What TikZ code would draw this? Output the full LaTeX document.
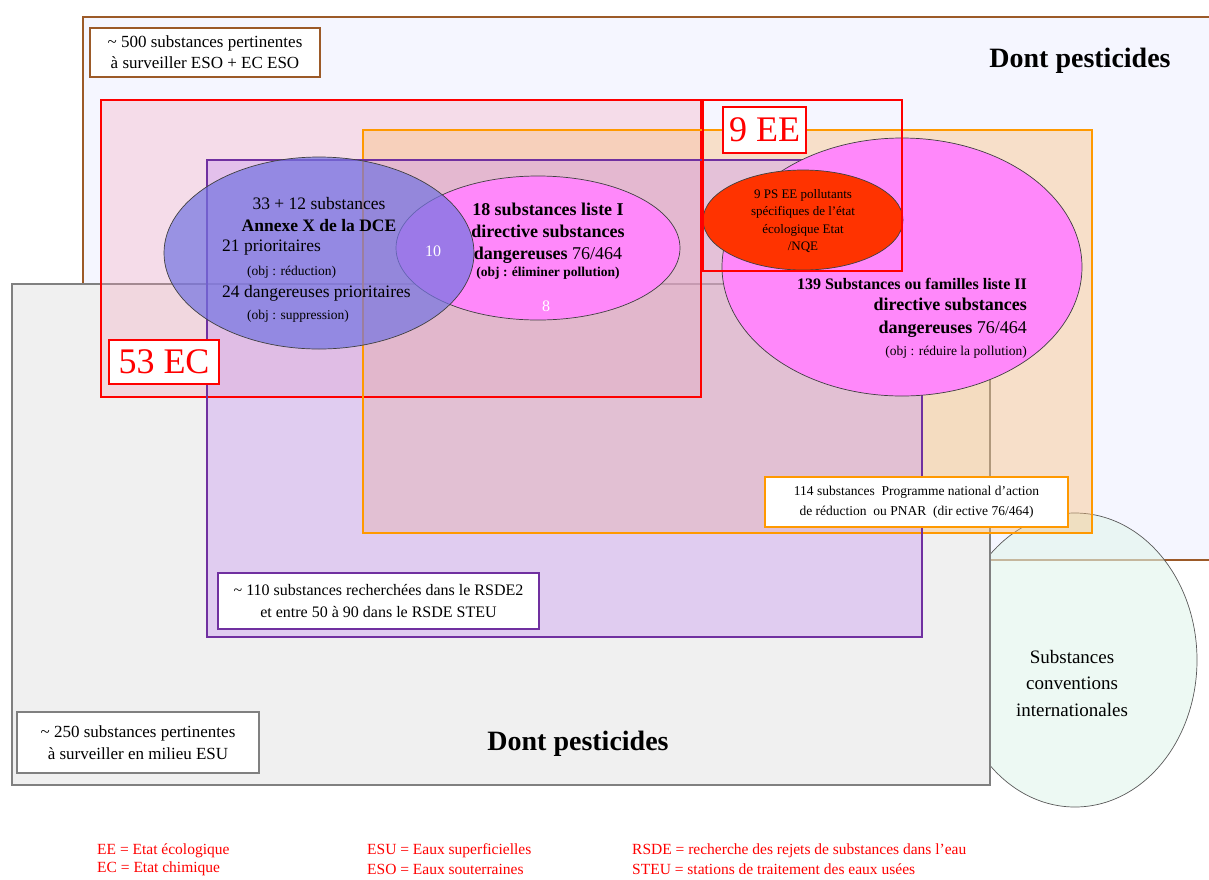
\documentclass[tikz,border=0pt]{standalone}
\usepackage{fontspec}
\setmainfont{Liberation Serif}
\usepackage{xcolor}
\usepackage{tikz}
\usetikzlibrary{shapes,positioning}

\definecolor{esobrown}{RGB}{156,90,40}
\definecolor{esofill}{RGB}{245,246,255}
\definecolor{esugray}{RGB}{128,128,128}
\definecolor{esufill}{RGB}{240,240,240}
\definecolor{ecred}{RGB}{255,0,0}
\definecolor{ecfill}{RGB}{245,160,185}
\definecolor{pnarorange}{RGB}{255,153,0}
\definecolor{pnarfill}{RGB}{250,190,120}
\definecolor{rsdepurple}{RGB}{112,48,160}
\definecolor{rsdefill}{RGB}{200,150,240}
\definecolor{annexeblue}{RGB}{115,115,225}
\definecolor{listpink}{RGB}{255,136,250}
\definecolor{psorange}{RGB}{255,51,0}
\definecolor{convfill}{RGB}{225,245,235}

\newcommand{\fsz}[2]{\fontsize{#1}{#2}\selectfont}

\begin{document}
\begin{tikzpicture}[x=1pt, y=-1pt]
                    % Define styles
                    \tikzstyle{zone} = [line width=2.5pt]
                    \tikzstyle{tag} = [rectangle, draw, line width=2.5pt, fill=white, align=center, inner sep=0pt]
                    \tikzstyle{blob} = [ellipse, draw=black!75, line width=0.7pt, inner sep=0pt]
                    \tikzstyle{txt} = [align=center, inner sep=0pt]
                    \tikzstyle{note} = [anchor=west, inner sep=0pt, text=red, font=\fsz{15.5}{18}]

                    \useasboundingbox (0,0) rectangle (1209,879);

                    % ESO zone, conventions, ESU zone
                    \draw [zone, draw=esobrown, fill=esofill] (83,17) rectangle (1220,560);
                    \node [blob, draw=black!65, fill=convfill, fill opacity=0.6, minimum width=244pt, minimum height=294pt] (conv) at (1075,660) {};
                    \draw [zone, draw=esugray, fill=esufill] (12,284) rectangle (990,785);

                    % EC, PNAR and RSDE zones: fills first, then borders
                    \fill [ecfill, fill opacity=0.3] (101,100) rectangle (701,397);
                    \fill [pnarfill, fill opacity=0.4] (363,130) rectangle (1092,533);
                    \fill [rsdefill, fill opacity=0.4] (207,160) rectangle (922,637);
                    \draw [zone, ecred] (101,100) rectangle (701,397);
                    \draw [zone, pnarorange] (363,130) rectangle (1092,533);
                    \draw [zone, rsdepurple] (207,160) rectangle (922,637);

                    % Substance lists
                    \node [blob, fill=listpink, minimum width=284pt, minimum height=144pt] (liste1) at (538,248) {};
                    \node [blob, fill=annexeblue, fill opacity=0.7, minimum width=310pt, minimum height=192pt] (annexe) at (319,253) {};
                    \node [blob, fill=listpink, minimum width=360pt, minimum height=258pt] (liste2) at (902,267) {};
                    \node [blob, fill=psorange, minimum width=200pt, minimum height=100pt] (psee) at (803,220) {};
                    % EE zone
                    \draw [zone, ecred] (703,100) rectangle (902,271);

                    % Texts in the ellipses
                    \node [txt, font=\fsz{17.5}{22}] (annexetitle) at (319,215) {33 + 12 substances\\\textbf{Annexe X de la DCE}};
                    \node [txt, anchor=west, font=\fsz{17.5}{22}] (prio) at (222,248) {21 prioritaires};
                    \node [txt, anchor=west, font=\fsz{13.5}{16}] (prioobj) at (247,272) {(obj : réduction)};
                    \node [txt, anchor=west, font=\fsz{17.5}{22}] (dprio) at (222,293) {24 dangereuses prioritaires};
                    \node [txt, anchor=west, font=\fsz{13.5}{16}] (dprioobj) at (247,316) {(obj : suppression)};
                    \node [txt, font=\fsz{18}{22}] (liste1txt) at (548,233) {\textbf{18 substances liste I}\\\textbf{directive substances}\\\textbf{dangereuses} 76/464};
                    \node [txt, font=\fsz{13.5}{16}\bfseries] (liste1obj) at (548,273) {(obj : éliminer pollution)};
                    \node [txt, text=white, font=\fsz{16}{18}] (inter) at (433,251) {10};
                    \node [txt, text=white, font=\fsz{16}{18}] (reste) at (546,306) {8};
                    \node [txt, font=\fsz{13}{17.5}] (pseetxt) at (803,221) {9 PS EE pollutants\\spécifiques de l’état\\écologique Etat\\/NQE};
                    \node [txt, anchor=east, font=\fsz{16}{20}\bfseries] (liste2a) at (1027,284) {139 Substances ou familles liste II};
                    \node [txt, anchor=east, align=right, font=\fsz{18}{23}] (liste2b) at (1027,318) {\textbf{directive substances}\\\textbf{dangereuses} 76/464};
                    \node [txt, anchor=east, font=\fsz{13.5}{16}] (liste2obj) at (1027,352) {(obj : réduire la pollution)};
                    \node [txt, font=\fsz{19}{26.5}] (convtxt) at (1072,683) {Substances\\conventions\\internationales};

                    % Zone titles
                    \node [txt, font=\fsz{28}{32}\bfseries] (pestieso) at (1080,61) {Dont pesticides};
                    \node [txt, font=\fsz{28}{32}\bfseries] (pestiesu) at (578,744) {Dont pesticides};

                    % Labels of the zones
                    \node [tag, draw=esobrown, minimum width=230pt, minimum height=49pt, font=\fsz{17}{21}] (eso) at (205,52.5) {\textasciitilde{} 500 substances pertinentes\\à surveiller ESO + EC ESO};
                    \node [tag, draw=esugray, minimum width=242pt, minimum height=61pt, font=\fsz{17}{22}] (esu) at (138,742.5) {\textasciitilde{} 250 substances pertinentes\\à surveiller en milieu ESU};
                    \node [tag, draw=rsdepurple, minimum width=321pt, minimum height=56pt, font=\fsz{16}{22}] (rsde) at (378.5,601) {\textasciitilde{} 110 substances recherchées dans le RSDE2\\et entre 50 à 90 dans le RSDE STEU};
                    \node [tag, draw=pnarorange, minimum width=303pt, minimum height=50pt, font=\fsz{13.5}{20}] (pnar) at (916.5,502) {114 substances~~Programme national d’action\\de réduction~~ou PNAR~~(dir ective 76/464)};
                    \node [tag, draw=ecred, text=ecred, minimum width=83pt, minimum height=46pt, font=\fsz{36}{40}] (ee) at (764.5,130) {9 EE};
                    \node [tag, draw=ecred, text=ecred, minimum width=110pt, minimum height=44pt, font=\fsz{36}{40}] (ec) at (164,362) {53 EC};

                    % Abbreviations
                    \node [note] (abee) at (97,851) {EE = Etat écologique};
                    \node [note] (abec) at (97,869) {EC = Etat chimique};
                    \node [note] (abesu) at (367,851) {ESU = Eaux superficielles};
                    \node [note] (abeso) at (367,869) {ESO = Eaux souterraines};
                    \node [note] (abrsde) at (632,851) {RSDE = recherche des rejets de substances dans l’eau};
                    \node [note] (absteu) at (632,869) {STEU = stations de traitement des eaux usées};
                \end{tikzpicture}
\end{document}
